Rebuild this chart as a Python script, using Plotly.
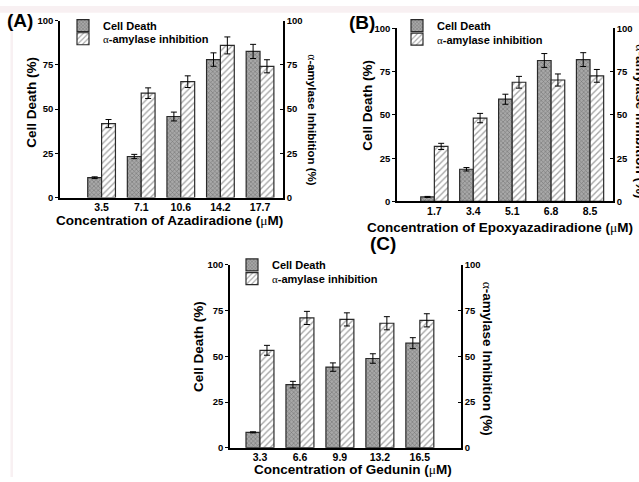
import plotly.graph_objects as go

W, H = 639, 482

# ---------------- data ----------------
conc_a = ["3.5", "7.1", "10.6", "14.2", "17.7"]
death_a = [11.2, 23.2, 45.8, 78.0, 82.6]
death_a_err = [0.5, 1.2, 2.5, 3.8, 4.0]
amyl_a = [41.8, 59.0, 65.5, 86.0, 74.2]
amyl_a_err = [2.3, 3.0, 3.3, 4.8, 3.7]

conc_b = ["1.7", "3.4", "5.1", "6.8", "8.5"]
death_b = [2.6, 18.6, 59.1, 81.5, 82.0]
death_b_err = [0.3, 1.0, 2.9, 4.0, 4.0]
amyl_b = [31.8, 48.2, 68.9, 70.2, 72.6]
amyl_b_err = [1.8, 2.7, 3.4, 3.5, 3.7]

conc_c = ["3.3", "6.6", "9.9", "13.2", "16.5"]
death_c = [8.4, 34.5, 44.1, 48.8, 57.2]
death_c_err = [0.3, 1.8, 2.3, 2.6, 3.0]
amyl_c = [53.3, 71.0, 70.2, 68.1, 69.7]
amyl_c_err = [2.7, 3.6, 3.6, 3.6, 3.6]

yticks = [0, 25, 50, 75, 100]

# ---------------- helpers ----------------
def px_x(p):
    return p / W

def px_y(p):
    return 1 - p / H

FONT = "Liberation Sans, Arial, sans-serif"
SERIF = "Liberation Serif"

fig = go.Figure()

death_marker = dict(color="#a0a0a0",
                    line=dict(color="#2a2a2a", width=1.2),
                    pattern=dict(shape="x", fgcolor="#444444", bgcolor="#a8a8a8",
                                 size=3, solidity=0.35))
amyl_marker = dict(color="white",
                   line=dict(color="#2a2a2a", width=1.2),
                   pattern=dict(shape="/", fgcolor="#4a4a4a", bgcolor="white",
                                size=4.5, solidity=0.3))
err = dict(type="data", color="black", thickness=1, width=3)

panels = [
    ("x", "y", "y2", ("legend2", "legend3"), conc_a, death_a, death_a_err, amyl_a, amyl_a_err, "A"),
    ("x2", "y3", "y4", ("legend4", "legend5"), conc_b, death_b, death_b_err, amyl_b, amyl_b_err, "B"),
    ("x3", "y5", "y6", ("legend6", "legend7"), conc_c, death_c, death_c_err, amyl_c, amyl_c_err, "C"),
]
amyl_name = "<span style=\"font-family:'%s'\">α</span><b>-amylase inhibition</b>" % SERIF

for xa, ya, yb, lgs, cats, d, de, a, ae, tag in panels:
    fig.add_trace(go.Bar(x=cats, y=d, name="<b>Cell Death</b>", marker=death_marker,
                         error_y=dict(array=de, **err), xaxis=xa, yaxis=ya,
                         legend=lgs[0], offsetgroup="d" + tag, alignmentgroup=tag))
    fig.add_trace(go.Bar(x=cats, y=a, name=amyl_name, marker=amyl_marker,
                         error_y=dict(array=ae, **err), xaxis=xa, yaxis=yb,
                         legend=lgs[1], offsetgroup="a" + tag, alignmentgroup=tag))

# ---------------- axes ----------------
# panel boxes in pixels: (left, right, top, bottom), x range
boxes = {
    "A": (60, 283, 15, 196, [-1.05, 4.58]),
    "B": (397, 613, 23, 200, [-0.96, 4.59]),
    "C": (230, 461, 265, 452, [-0.75, 5.03]),
}

def xaxis(box, anchor):
    l, r, t, b, rng = box
    return dict(domain=[px_x(l), px_x(r)], anchor=anchor, range=rng,
                showline=True, linecolor="black", linewidth=1.5, ticks="",
                showgrid=False, zeroline=False, fixedrange=True, ticklabelstandoff=-1,
                tickfont=dict(family=FONT, size=10.5, color="black", weight="bold"))

def yaxis_left(box, anchor):
    l, r, t, b, rng = box
    return dict(domain=[px_y(b), px_y(t)], anchor=anchor, range=[0, 100],
                tickvals=yticks, showline=True, linecolor="black", linewidth=1.5,
                ticks="outside", ticklen=3, tickwidth=1, tickcolor="black",
                showgrid=False, zeroline=False,
                tickfont=dict(family=FONT, size=9.5, color="black", weight="bold"))

def yaxis_right(overlay, anchor):
    return dict(overlaying=overlay, side="right", anchor=anchor, range=[0, 100],
                tickvals=yticks, showline=True, linecolor="black", linewidth=1.5,
                ticks="inside", ticklen=3, tickwidth=1, tickcolor="black",
                showgrid=False, zeroline=False,
                tickfont=dict(family=FONT, size=9.5, color="black", weight="bold"))

layout_axes = dict(
    xaxis=xaxis(boxes["A"], "y"),
    yaxis=yaxis_left(boxes["A"], "x"),
    yaxis2=yaxis_right("y", "x"),
    xaxis2=xaxis(boxes["B"], "y3"),
    yaxis3=yaxis_left(boxes["B"], "x2"),
    yaxis4=yaxis_right("y3", "x2"),
    xaxis3=xaxis(boxes["C"], "y5"),
    yaxis5=yaxis_left(boxes["C"], "x3"),
    yaxis6=yaxis_right("y5", "x3"),
)

def legend(x_text, y_mid):
    return dict(x=px_x(x_text - 40), y=px_y(y_mid), xanchor="left", yanchor="middle",
                bgcolor="rgba(0,0,0,0)", borderwidth=0, tracegroupgap=0,
                font=dict(family=FONT, size=11, color="black"))

# ---------------- annotations ----------------
def ann(text, x, y, size, angle=0, **kw):
    return dict(text=text, x=px_x(x), y=px_y(y), xref="paper", yref="paper",
                showarrow=False, textangle=angle, xanchor="center", yanchor="middle",
                font=dict(family=FONT, size=size, color="black"), **kw)

mu = "<span style=\"font-family:'%s'\">μ</span>" % SERIF
alpha = "<span style=\"font-family:'%s'\">α</span>" % SERIF
right_title = alpha + "<b>-amylase Inhibition (%)</b>"

annotations = [
    ann("<b>(A)</b>", 20, 15, 19),
    ann("<b>(B)</b>", 362, 17, 19),
    ann("<b>(C)</b>", 383, 243, 19),
    ann("<b>Cell Death (%)</b>", 32, 99, 13.5, -90),
    ann(right_title, 312, 116, 11.5, 90),
    ann("<b>Concentration of Azadiradione (</b>" + mu + "<b>M)</b>", 169, 219, 13.5),
    ann("<b>Cell Death (%)</b>", 368, 102, 13.5, -90),
    ann(right_title, 641, 118, 13.5, 90),
    ann("<b>Concentration of Epoxyazadiradione (</b>" + mu + "<b>M)</b>", 500, 227, 13.5),
    ann("<b>Cell Death (%)</b>", 198, 348, 13.5, -90),
    ann(right_title, 487, 361, 13.5, 90),
    ann("<b>Concentration of Gedunin (</b>" + mu + "<b>M)</b>", 353, 474, 13.5),
]

shapes = [
    dict(type="rect", xref="paper", yref="paper", x0=0, x1=1, y0=px_y(7), y1=1,
         fillcolor="#f8f0f2", line=dict(width=0), layer="below"),
    dict(type="rect", xref="paper", yref="paper", x0=px_x(10.5), x1=px_x(13),
         y0=0, y1=px_y(7), fillcolor="#f8f0f2", line=dict(width=0), layer="below"),
]

fig.update_layout(
    width=W, height=H, margin=dict(l=0, r=0, t=0, b=0),
    paper_bgcolor="white", plot_bgcolor="rgba(0,0,0,0)",
    barmode="group", bargap=0.3, bargroupgap=0,
    font=dict(family=FONT, color="black"),
    legend2=legend(103, 20), legend3=legend(103, 33.5),
    legend4=legend(437, 20), legend5=legend(437, 34),
    legend6=legend(272, 265), legend7=legend(272, 279),
    annotations=annotations, shapes=shapes,
    **layout_axes,
)

fig.write_html("out.html")
